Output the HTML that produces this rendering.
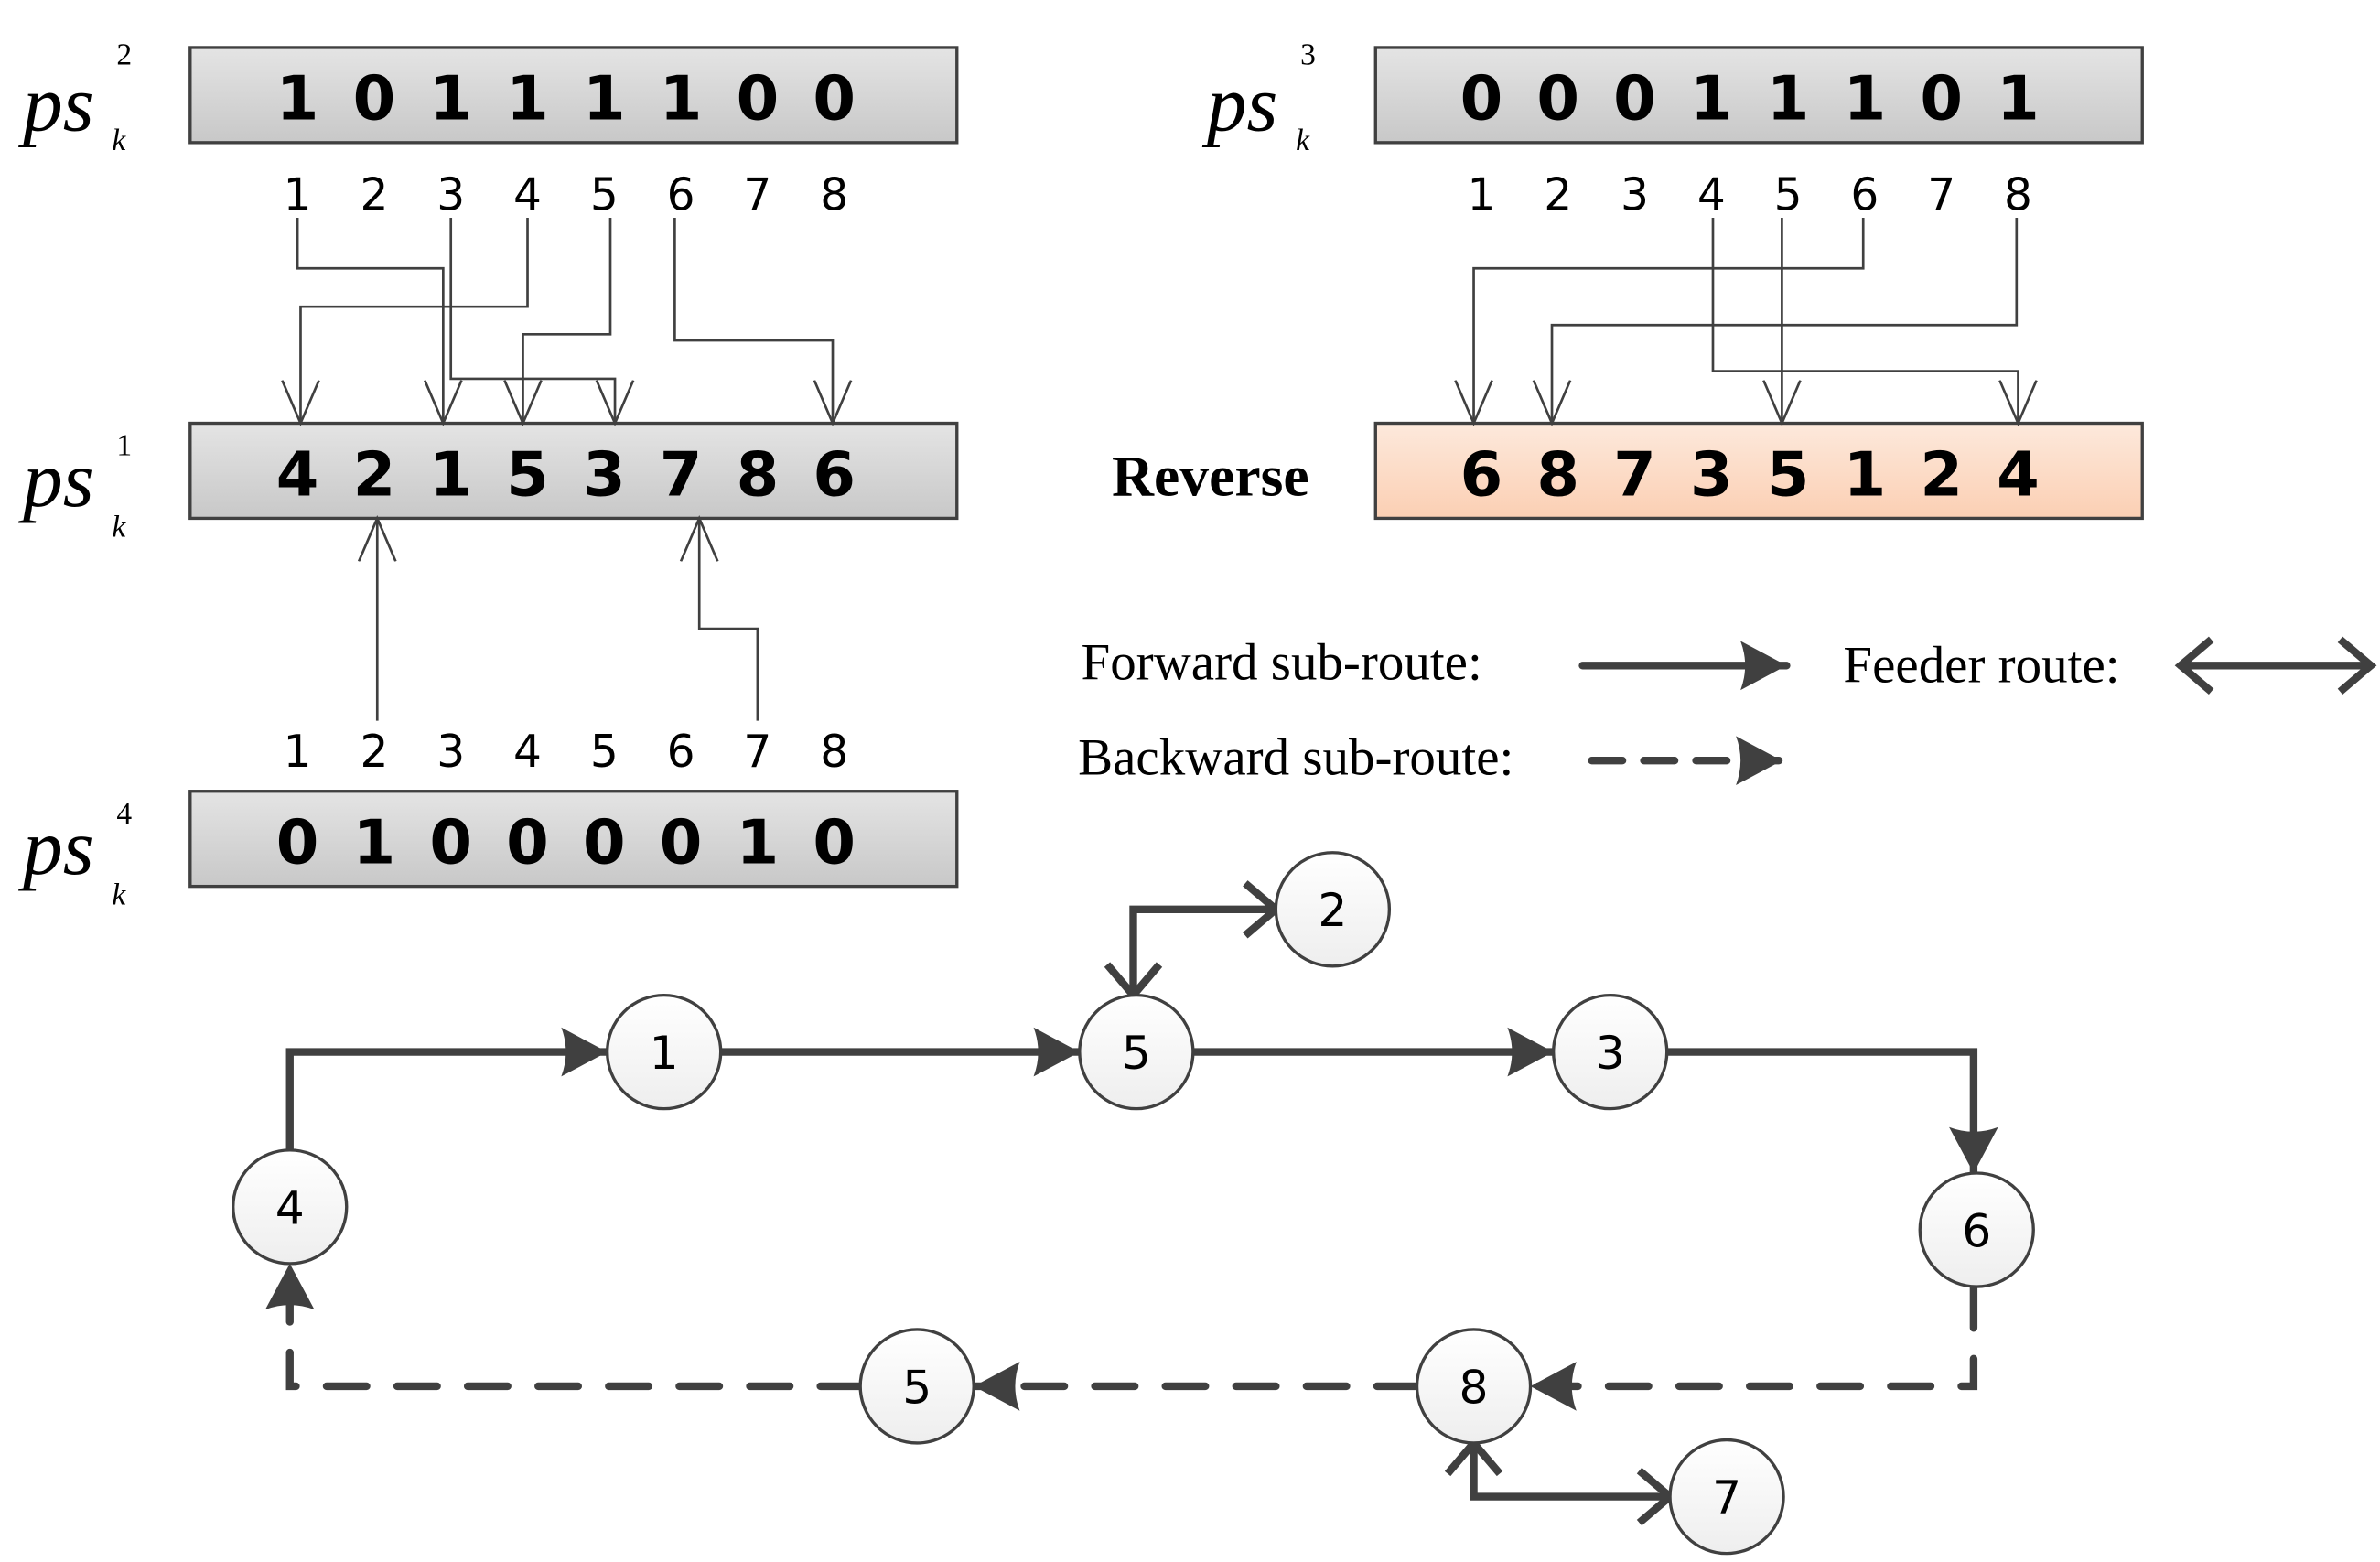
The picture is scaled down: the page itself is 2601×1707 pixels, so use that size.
<!DOCTYPE html>
<html><head><style>html,body{margin:0;padding:0;background:#fff}svg{display:block}</style></head><body>
<svg width="2601" height="1707" viewBox="0 0 1552 1018.6" preserveAspectRatio="none" xmlns="http://www.w3.org/2000/svg">
<defs>
<linearGradient id="g" x1="0" y1="0" x2="0" y2="1"><stop offset="0" stop-color="#e4e4e4"/><stop offset="1" stop-color="#c8c8c8"/></linearGradient>
<linearGradient id="p" x1="0" y1="0" x2="0" y2="1"><stop offset="0" stop-color="#fde9dc"/><stop offset="1" stop-color="#fbcfb3"/></linearGradient>
<linearGradient id="c" x1="0" y1="0" x2="0" y2="1"><stop offset="0" stop-color="#ffffff"/><stop offset="1" stop-color="#eeeeee"/></linearGradient>
<marker id="o" markerWidth="30" markerHeight="26" refX="28" refY="13" orient="auto" markerUnits="userSpaceOnUse" viewBox="0 0 30 26"><path d="M0,1 L28,13 L0,25" fill="none" stroke="#404040" stroke-width="1.6"/></marker>
<marker id="f" markerWidth="36" markerHeight="36" refX="34" refY="18" orient="auto" markerUnits="userSpaceOnUse" viewBox="0 0 36 36"><path d="M4,2 Q10,18 4,34 L34,18 Z" fill="#404040"/></marker>
<marker id="v" markerWidth="36" markerHeight="40" refX="32" refY="20" orient="auto-start-reverse" markerUnits="userSpaceOnUse" viewBox="0 0 36 40"><path d="M12,3 L32,20 L12,37" fill="none" stroke="#404040" stroke-width="5"/></marker>
</defs>
<g font-family="Liberation Serif, serif" font-style="italic" fill="#000">
<text x="15" y="85" font-size="52">ps</text><text x="76" y="42" font-size="20" font-style="normal">2</text><text x="73" y="98" font-size="20">k</text>
<text x="15" y="330" font-size="52">ps</text><text x="76" y="297" font-size="20" font-style="normal">1</text><text x="73" y="350" font-size="20">k</text>
<text x="15" y="570" font-size="52">ps</text><text x="76" y="537" font-size="20" font-style="normal">4</text><text x="73" y="590" font-size="20">k</text>
<text x="787" y="85" font-size="52">ps</text><text x="848" y="42" font-size="20" font-style="normal">3</text><text x="845" y="98" font-size="20">k</text>
</g>
<g stroke="#404040" stroke-width="2">
<rect x="124" y="31" width="500" height="62" fill="url(#g)"/>
<rect x="124" y="276" width="500" height="62" fill="url(#g)"/>
<rect x="124" y="516" width="500" height="62" fill="url(#g)"/>
<rect x="897" y="31" width="500" height="62" fill="url(#g)"/>
<rect x="897" y="276" width="500" height="62" fill="url(#p)"/>
</g>
<g font-family="DejaVu Sans, Liberation Sans, sans-serif" font-weight="bold" font-size="40" text-anchor="middle" fill="#000">
<text y="78"><tspan x="194">1</tspan><tspan x="244">0</tspan><tspan x="294">1</tspan><tspan x="344">1</tspan><tspan x="394">1</tspan><tspan x="444">1</tspan><tspan x="494">0</tspan><tspan x="544">0</tspan></text>
<text y="323"><tspan x="194">4</tspan><tspan x="244">2</tspan><tspan x="294">1</tspan><tspan x="344">5</tspan><tspan x="394">3</tspan><tspan x="444">7</tspan><tspan x="494">8</tspan><tspan x="544">6</tspan></text>
<text y="563"><tspan x="194">0</tspan><tspan x="244">1</tspan><tspan x="294">0</tspan><tspan x="344">0</tspan><tspan x="394">0</tspan><tspan x="444">0</tspan><tspan x="494">1</tspan><tspan x="544">0</tspan></text>
<text y="78"><tspan x="966">0</tspan><tspan x="1016">0</tspan><tspan x="1066">0</tspan><tspan x="1116">1</tspan><tspan x="1166">1</tspan><tspan x="1216">1</tspan><tspan x="1266">0</tspan><tspan x="1316">1</tspan></text>
<text y="323"><tspan x="966">6</tspan><tspan x="1016">8</tspan><tspan x="1066">7</tspan><tspan x="1116">3</tspan><tspan x="1166">5</tspan><tspan x="1216">1</tspan><tspan x="1266">2</tspan><tspan x="1316">4</tspan></text>
</g>
<text x="725" y="323" font-family="Liberation Serif, serif" font-weight="bold" font-size="38">Reverse</text>
<g font-family="DejaVu Sans, Liberation Sans, sans-serif" font-size="29" text-anchor="middle" fill="#000">
<text y="137"><tspan x="194">1</tspan><tspan x="244">2</tspan><tspan x="294">3</tspan><tspan x="344">4</tspan><tspan x="394">5</tspan><tspan x="444">6</tspan><tspan x="494">7</tspan><tspan x="544">8</tspan></text>
<text y="500"><tspan x="194">1</tspan><tspan x="244">2</tspan><tspan x="294">3</tspan><tspan x="344">4</tspan><tspan x="394">5</tspan><tspan x="444">6</tspan><tspan x="494">7</tspan><tspan x="544">8</tspan></text>
<text y="137"><tspan x="966">1</tspan><tspan x="1016">2</tspan><tspan x="1066">3</tspan><tspan x="1116">4</tspan><tspan x="1166">5</tspan><tspan x="1216">6</tspan><tspan x="1266">7</tspan><tspan x="1316">8</tspan></text>
</g>
<g fill="none" stroke="#404040" stroke-width="1.6" marker-end="url(#o)">
<path d="M194,142 V175 H289 V276"/>
<path d="M344,142 V200 H196 V276"/>
<path d="M398,142 V218 H341 V276"/>
<path d="M294,142 V247 H401 V276"/>
<path d="M440,142 V222 H543 V276"/>
<path d="M246,470 V338"/>
<path d="M494,470 V410 H456 V338"/>
<path d="M1215,142 V175 H961 V276"/>
<path d="M1315,142 V212 H1012 V276"/>
<path d="M1117,142 V242 H1316 V276"/>
<path d="M1162,142 V276"/>
</g>
<g font-family="Liberation Serif, serif" font-size="34" fill="#000">
<text x="705" y="443">Forward sub-route:</text>
<text x="1202" y="445">Feeder route:</text>
<text x="703" y="505">Backward sub-route:</text>
</g>
<g fill="none" stroke="#404040" stroke-width="5" stroke-linecap="round">
<path d="M1032,434 H1165" marker-end="url(#f)"/>
<path d="M1422,434 H1546" marker-start="url(#v)" marker-end="url(#v)"/>
<path d="M1038,496 H1162" stroke-dasharray="20,14" marker-end="url(#f)"/>
<path d="M189,750 V686 H396" marker-end="url(#f)"/>
<path d="M470,686 H704" marker-end="url(#f)"/>
<path d="M778,686 H1013" marker-end="url(#f)"/>
<path d="M1087,686 H1287 V765" marker-end="url(#f)"/>
<path d="M1287,840 V904 H998" stroke-dasharray="26,20" marker-end="url(#f)"/>
<path d="M924,904 H635" stroke-dasharray="26,20" marker-end="url(#f)"/>
<path d="M561,904 H189 V824" stroke-dasharray="26,20" marker-end="url(#f)"/>
<path d="M739,649 V593 H832" marker-start="url(#v)" marker-end="url(#v)"/>
<path d="M961,941 V976 H1089" marker-start="url(#v)" marker-end="url(#v)"/>
</g>
<g stroke="#404040" stroke-width="2" fill="url(#c)">
<circle cx="433" cy="686" r="37"/><circle cx="741" cy="686" r="37"/><circle cx="1050" cy="686" r="37"/>
<circle cx="869" cy="593" r="37"/><circle cx="189" cy="787" r="37"/><circle cx="1289" cy="802" r="37"/>
<circle cx="961" cy="904" r="37"/><circle cx="598" cy="904" r="37"/><circle cx="1126" cy="976" r="37"/>
</g>
<g font-family="DejaVu Sans, Liberation Sans, sans-serif" font-size="30" text-anchor="middle" fill="#000">
<text x="433" y="697">1</text><text x="741" y="697">5</text><text x="1050" y="697">3</text>
<text x="869" y="604">2</text><text x="189" y="798">4</text><text x="1289" y="813">6</text>
<text x="961" y="915">8</text><text x="598" y="915">5</text><text x="1126" y="987">7</text>
</g>
</svg>
</body></html>
